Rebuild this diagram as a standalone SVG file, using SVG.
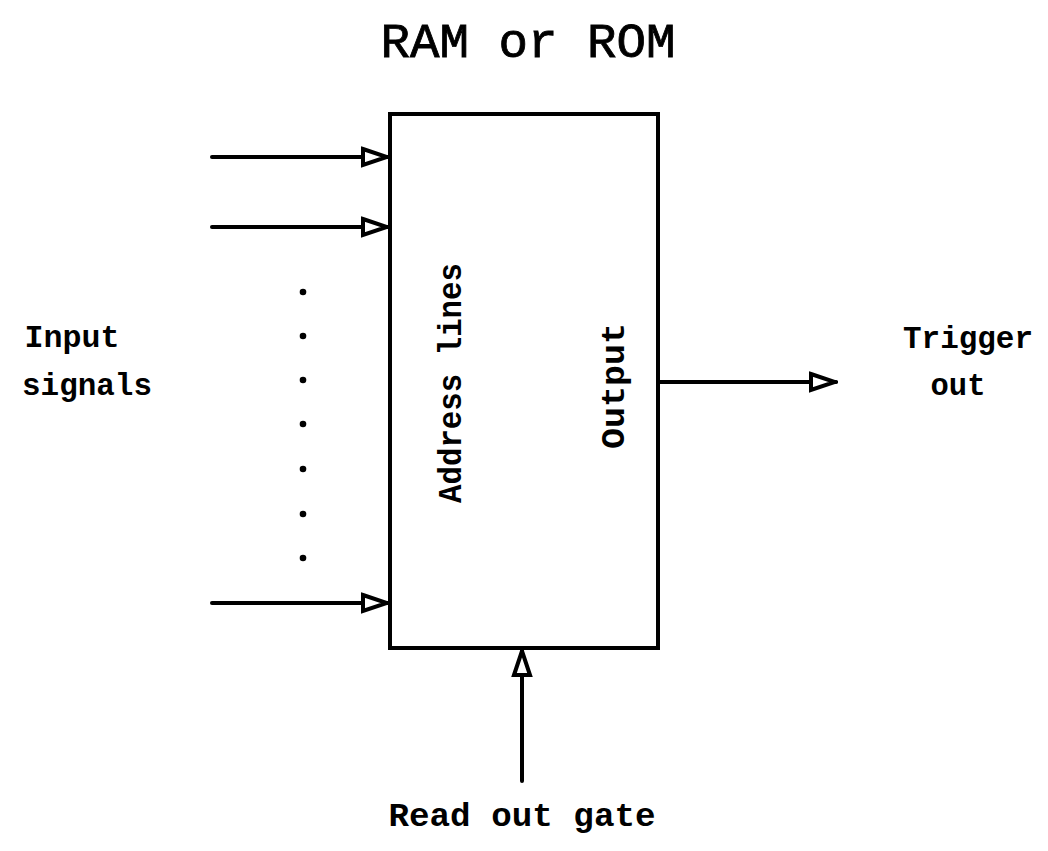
<svg xmlns="http://www.w3.org/2000/svg" width="1048" height="851" viewBox="0 0 1048 851">
<style>
.t{font-family:"Liberation Mono","Courier New",monospace;font-weight:bold;fill:#000}
.tt{font-family:"Liberation Mono","Courier New",monospace;font-weight:normal;fill:#000;stroke:#000;stroke-width:0.8}
.ln{stroke:#000;stroke-width:4;fill:none;stroke-linecap:round}
.dot{fill:#000}
</style>
<defs>
<marker id="ah" viewBox="0 0 30 22" refX="28" refY="11" markerWidth="30" markerHeight="22" markerUnits="userSpaceOnUse" orient="auto">
<path d="M3,3 L27,11 L3,19 Z" fill="#fff" stroke="#000" stroke-width="4" stroke-linejoin="miter"/>
</marker>
</defs>
<rect width="1048" height="851" fill="#fff"/>
<g id="title"><text class="tt" x="528" y="57" font-size="48" text-anchor="middle" textLength="295" lengthAdjust="spacingAndGlyphs">RAM or ROM</text></g>
<g id="memory">
<rect x="390" y="114" width="268" height="534" fill="#fff" stroke="#000" stroke-width="4"/>
<text class="t" font-size="33" text-anchor="middle" transform="translate(461,383) rotate(-90)" textLength="240" lengthAdjust="spacingAndGlyphs">Address lines</text>
<text class="t" font-size="33" text-anchor="middle" transform="translate(624,386) rotate(-90)" textLength="126" lengthAdjust="spacingAndGlyphs">Output</text>
</g>
<g id="inputs">
<text class="t" x="72" y="347" font-size="31" text-anchor="middle" textLength="95" lengthAdjust="spacingAndGlyphs">Input</text>
<text class="t" x="87" y="395" font-size="31" text-anchor="middle" textLength="130" lengthAdjust="spacingAndGlyphs">signals</text>
<circle class="dot" cx="303" cy="292" r="3.3"/>
<circle class="dot" cx="303" cy="336" r="3.3"/>
<circle class="dot" cx="303" cy="380" r="3.3"/>
<circle class="dot" cx="303" cy="424" r="3.3"/>
<circle class="dot" cx="303" cy="469" r="3.3"/>
<circle class="dot" cx="303" cy="514" r="3.3"/>
<circle class="dot" cx="303" cy="558" r="3.3"/>
</g>
<g id="trigger">
<text class="t" x="968" y="348" font-size="31" text-anchor="middle" textLength="130" lengthAdjust="spacingAndGlyphs">Trigger</text>
<text class="t" x="958" y="395" font-size="31" text-anchor="middle" textLength="55" lengthAdjust="spacingAndGlyphs">out</text>
</g>
<g id="gate">
<text class="t" x="522" y="826" font-size="34" text-anchor="middle" textLength="267" lengthAdjust="spacingAndGlyphs">Read out gate</text>
</g>
<g id="connectors">
<line class="ln" x1="212" y1="157" x2="388" y2="157" marker-end="url(#ah)"/>
<line class="ln" x1="212" y1="227" x2="388" y2="227" marker-end="url(#ah)"/>
<line class="ln" x1="212" y1="603" x2="388" y2="603" marker-end="url(#ah)"/>
<line class="ln" x1="660" y1="382" x2="836" y2="382" marker-end="url(#ah)"/>
<line class="ln" x1="522" y1="781" x2="522" y2="650" marker-end="url(#ah)"/>
</g>
</svg>
